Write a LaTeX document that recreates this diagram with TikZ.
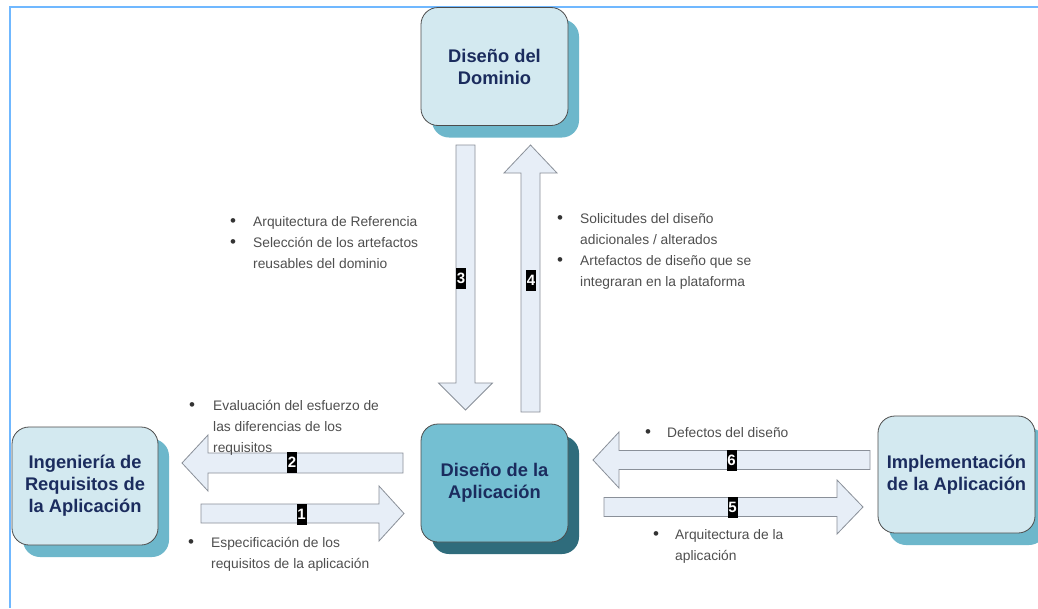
\documentclass[tikz,border=0pt]{standalone}
\usepackage{fontspec}
\setmainfont{Liberation Sans}
\usetikzlibrary{shadows}
\definecolor{framec}{HTML}{70B8FF}
\definecolor{boxlight}{HTML}{D3E9F0}
\definecolor{shadlight}{HTML}{6DB7CB}
\definecolor{boxmid}{HTML}{74BFD2}
\definecolor{shaddark}{HTML}{2F6C7C}
\definecolor{navy}{HTML}{1B2C5E}
\definecolor{arrfill}{HTML}{E7EEF7}
\definecolor{arrline}{HTML}{8A9099}
\definecolor{txtgray}{HTML}{4F4F4F}
\definecolor{bulgray}{HTML}{333333}
\newcommand\mybul[1]{\makebox[#1][l]{\textcolor{bulgray}{\fontsize{17}{17}\selectfont •}}}
\begin{document}
\begin{tikzpicture}[x=1pt,y=-1pt,
  frame/.style={draw=framec,line width=2.5pt},
  procbox/.style={draw=black!70,line width=0.8pt,rounded corners=17pt,
    minimum width=147pt,minimum height=118pt,align=center,inner sep=2pt,
    font=\bfseries\fontsize{18.3}{22}\selectfont,text=navy},
  lightbox/.style={procbox,fill=boxlight,
    drop shadow={shadow xshift=11pt,shadow yshift=-12pt,fill=shadlight,opacity=1}},
  midbox/.style={procbox,fill=boxmid,
    drop shadow={shadow xshift=11pt,shadow yshift=-12pt,fill=shaddark,opacity=1}},
  blockarrow/.style={draw=arrline,fill=arrfill,line width=0.8pt,line join=miter},
  numlbl/.style={fill=black,text=white,inner sep=0pt,minimum width=10pt,
    minimum height=21pt,font=\bfseries\fontsize{15}{15}\selectfont},
  bullettext/.style={anchor=base west,inner sep=0pt,align=left,text=txtgray,
    font=\fontsize{13.8}{20.7}\selectfont}]
\useasboundingbox (0,0) rectangle (1038,608);
\fill[white] (0,0) rectangle (1038,608);
% frame
\coordinate (fr1) at (1038,7);
\coordinate (fr2) at (10,7);
\coordinate (fr3) at (10,608);
\draw[frame] (fr1) -- (fr2) -- (fr3);

% boxes
\node[lightbox] (dom) at (494.5,66.5) {Diseño del\\Dominio};
\node[midbox] (app) at (494.5,483) {Diseño de la\\Aplicación};
\node[lightbox,minimum width=146pt] (req) at (85,486) {Ingeniería de\\Requisitos de\\la Aplicación};
\node[lightbox,minimum width=157pt,minimum height=117pt] (impl) at (956.5,474.5) {Implementación\\de la Aplicación};

% block arrows
% 3: down
\draw[blockarrow] (456,145) -- (475,145) -- (475,383) -- (492.5,383) -- (465.5,410)
  -- (438.5,383) -- (456,383) -- cycle;
% 4: up
\draw[blockarrow] (521,412) -- (540,412) -- (540,173) -- (557,173) -- (530.5,145)
  -- (504,173) -- (521,173) -- cycle;
% 2: left
\draw[blockarrow] (403,453) -- (403,473) -- (208,473) -- (208,491) -- (182,463)
  -- (208,435) -- (208,453) -- cycle;
% 1: right
\draw[blockarrow] (201,504) -- (201,523) -- (379,523) -- (379,541) -- (404,513.5)
  -- (379,486) -- (379,504) -- cycle;
% 6: left
\draw[blockarrow] (870,450.5) -- (870,469.5) -- (619,469.5) -- (619,488) -- (593,460)
  -- (619,432) -- (619,450.5) -- cycle;
% 5: right
\draw[blockarrow] (604,497.5) -- (604,516.5) -- (837,516.5) -- (837,534) -- (863,507)
  -- (837,480) -- (837,497.5) -- cycle;

% number labels
\node[numlbl] (n3) at (461,278) {3};
\node[numlbl] (n4) at (531,280) {4};
\node[numlbl] (n2) at (292,462) {2};
\node[numlbl] (n1) at (301.5,514) {1};
\node[numlbl] (n6) at (731.5,460) {6};
\node[numlbl] (n5) at (732.5,507) {5};

% texts (base anchor = baseline of the last line)
\node[bullettext] (t3) at (230,268) {\mybul{23pt}Arquitectura de Referencia\\
  \mybul{23pt}Selección de los artefactos\\\hspace*{23pt}reusables del dominio};
\node[bullettext] (t4) at (557,286) {\mybul{23pt}Solicitudes del diseño\\
  \hspace*{23pt}adicionales / alterados\\
  \mybul{23pt}Artefactos de diseño que se\\\hspace*{23pt}integraran en la plataforma};
\node[bullettext] (t2) at (189,452) {\mybul{24pt}Evaluación del esfuerzo de\\
  \hspace*{24pt}las diferencias de los\\\hspace*{24pt}requisitos};
\node[bullettext] (t1) at (188,568) {\mybul{23pt}Especificación de los\\
  \hspace*{23pt}requisitos de la aplicación};
\node[bullettext] (t6) at (645,437) {\mybul{22pt}Defectos del diseño};
\node[bullettext] (t5) at (653,560) {\mybul{22pt}Arquitectura de la\\
  \hspace*{22pt}aplicación};
\end{tikzpicture}
\end{document}
